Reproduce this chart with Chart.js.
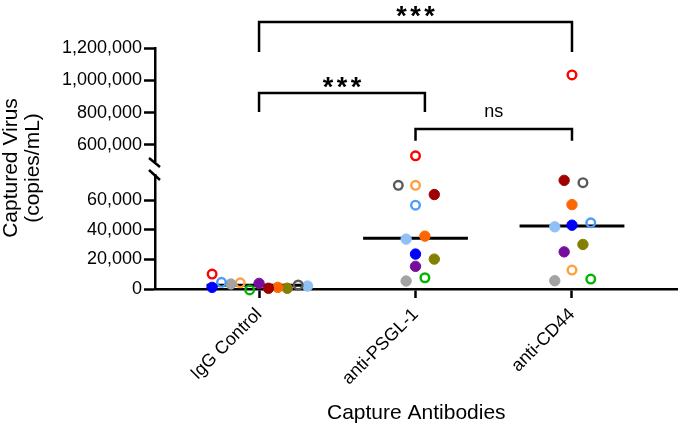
<!DOCTYPE html>
<html>
<head>
<meta charset="utf-8">
<title>Captured virus by capture antibody</title>
<script src="https://cdn.jsdelivr.net/npm/chart.js@4.4.1/dist/chart.umd.min.js"></script>
<style>
  html, body { margin: 0; padding: 0; background: #fff; }
  #wrap { width: 685px; height: 427px; }
</style>
</head>
<body>
<div id="wrap"><canvas id="myChart"></canvas></div>
<script>
// categories on the x axis
const groups = ['IgG Control', 'anti-PSGL-1', 'anti-CD44'];

// one value per donor, same donor order in every array (copies/mL)
const iggValues  = [10100, 1100, 4500, 3400, 4200, -600, 3800, 500, 1100, 500, 2700, 2000];
const psglValues = [532000, 23600, 56600, 5400, 70000, 7600, 15300, 63800, 35700, 20200, 70000, 33700];
const cd44Values = [1033000, 43100, 44700, 5600, 12800, 6700, 25100, 73400, 57000, 30100, 71800, 42000];

// horizontal scatter of each dot, in category units
const iggJitter  = [-0.30, -0.30, -0.24, -0.18, -0.12, -0.06, 0, 0.06, 0.12, 0.18, 0.25, 0.31];
const psglJitter = [0, 0, 0, -0.06, 0, 0.06, 0, 0.12, 0.06, 0.12, -0.11, -0.06];
const cd44Jitter = [0, 0, 0.12, -0.11, 0, 0.12, -0.05, -0.05, 0, 0.07, 0.07, -0.11];

const medians = [2500, 34300, 42600];

const lowTicks  = [0, 20000, 40000, 60000];
const highTicks = [600000, 800000, 1000000, 1200000];

const comparisons = [
  { from: 0, to: 2, label: '***' },
  { from: 0, to: 1, label: '***' },
  { from: 1, to: 2, label: 'ns' },
];

const allValues = [iggValues, psglValues, cd44Values];
const allJitter = [iggJitter, psglJitter, cd44Jitter];

// donor colours, hollow = open circle
const donorStyles = [
  { color: '#ff0000', hollow: true },
  { color: '#0000ff', hollow: false },
  { color: '#4d9cf5', hollow: true },
  { color: '#a3a3a3', hollow: false },
  { color: '#ffa040', hollow: true },
  { color: '#00b400', hollow: true },
  { color: '#760e9c', hollow: false },
  { color: '#a00000', hollow: false },
  { color: '#ff6600', hollow: false },
  { color: '#837f00', hollow: false },
  { color: '#5a5a5a', hollow: true },
  { color: '#90c0f5', hollow: false },
];

const BREAK = 300000; // values above go on the upper segment
const FONT = '"Liberation Sans", Arial, Helvetica, sans-serif';

const datasets = [];
donorStyles.forEach((st, d) => {
  ['yLow', 'yHigh'].forEach(axis => {
    const pts = groups.map((g, i) => ({ x: i + allJitter[i][d], y: allValues[i][d] }))
      .filter(p => (axis === 'yHigh') === (p.y > BREAK));
    if (!pts.length) return;
    datasets.push({
      type: 'scatter',
      yAxisID: axis,
      data: pts,
      pointRadius: st.hollow ? 4.3 : 5.2,
      pointBorderWidth: st.hollow ? 2.4 : 1,
      borderColor: st.color,
      backgroundColor: st.hollow ? 'rgba(255,255,255,0)' : st.color,
      pointHoverRadius: 5,
      clip: false,
      order: 0,
    });
  });
});

medians.forEach((m, i) => {
  datasets.push({
    type: 'line',
    yAxisID: 'yLow',
    data: [{ x: i - 0.335, y: m }, { x: i + 0.335, y: m }],
    borderColor: '#000',
    borderWidth: 3,
    pointRadius: 0,
    clip: false,
    order: 5,
  });
});

const tickFont = { family: FONT, size: 18 };
const titleFont = { family: FONT, size: 21 };

const yAxisBase = {
  type: 'linear',
  position: 'left',
  stack: 'y',
  grid: { drawOnChartArea: false, drawTicks: true, tickLength: 11, tickWidth: 2.5, tickColor: '#000' },
  border: { display: true, color: '#000', width: 2.5 },
  ticks: { font: tickFont, color: '#000', padding: 2, callback: v => v.toLocaleString('en-US') },
  afterFit: s => { s.width = 155; },
};

// brackets and the axis break mark
const annotations = {
  id: 'annotations',
  afterDraw(chart) {
    const { ctx, chartArea } = chart;
    const { x, yLow, yHigh } = chart.scales;
    ctx.save();
    ctx.strokeStyle = '#000';
    ctx.fillStyle = '#000';
    ctx.lineWidth = 2.5;
    ctx.lineCap = 'butt';

    // break "//"
    const l = chartArea.left;
    const t = yHigh.bottom, b = yLow.top;
    ctx.beginPath();
    ctx.moveTo(l - 6, t - 3); ctx.lineTo(l + 5, t + 6);
    ctx.moveTo(l - 6, b - 5); ctx.lineTo(l + 5, b + 5);
    ctx.stroke();

    // bracket levels on the upper segment: line height, leg end, end nudges
    const levels = [
      { line: 1361000, leg: 1175000, nudge: [0, 0] },
      { line: 922000, leg: 804000, nudge: [0, 0.06] },
      { line: 699000, leg: 625000, nudge: [0, 0] },
    ];
    comparisons.forEach((c, k) => {
      const lv = levels[k];
      const x1 = x.getPixelForValue(c.from + lv.nudge[0]);
      const x2 = x.getPixelForValue(c.to + lv.nudge[1]);
      const yl = yHigh.getPixelForValue(lv.line);
      const yg = yHigh.getPixelForValue(lv.leg);
      ctx.beginPath();
      ctx.moveTo(x1, yg); ctx.lineTo(x1, yl); ctx.lineTo(x2, yl); ctx.lineTo(x2, yg);
      ctx.stroke();
      const cx = (x1 + x2) / 2;
      ctx.textAlign = 'center';
      ctx.textBaseline = 'alphabetic';
      if (c.label === 'ns') {
        ctx.font = '18px ' + FONT;
        ctx.fillText(c.label, cx, yl - 12);
      } else {
        ctx.font = 'bold 27px ' + FONT;
        [-14, 0, 14].forEach(dx => ctx.fillText('*', cx + dx, yl + 3));
      }
    });
    ctx.restore();
  }
};

const config = {
  type: 'scatter',
  data: { datasets },
  options: {
    responsive: true,
    maintainAspectRatio: false,
    animation: false,
    layout: { padding: { top: 48, right: 2, bottom: 0, left: 0 } },
    plugins: { legend: { display: false }, tooltip: { enabled: false } },
    scales: {
      x: {
        type: 'linear',
        min: -0.665,
        max: 2.675,
        afterBuildTicks: s => { s.ticks = groups.map((g, i) => ({ value: i })); },
        ticks: {
          callback: v => groups[v],
          autoSkip: false,
          minRotation: 45,
          maxRotation: 45,
          font: tickFont,
          color: '#000',
          padding: 6,
        },
        grid: { drawOnChartArea: false, drawTicks: true, tickLength: 9, tickWidth: 2.5, tickColor: '#000' },
        border: { display: true, color: '#000', width: 2.5 },
        title: { display: true, text: 'Capture Antibodies', font: titleFont, color: '#000', padding: { top: 0, bottom: 1 } },
        afterFit: s => { s.height = 138; },
      },
      yLow: Object.assign({}, yAxisBase, {
        min: 0,
        max: 77000,
        stackWeight: 114,
        afterBuildTicks: s => { s.ticks = lowTicks.map(v => ({ value: v })); },
      }),
      yGap: {
        type: 'linear',
        position: 'left',
        stack: 'y',
        stackWeight: 14,
        min: 0,
        max: 1,
        ticks: { display: false },
        grid: { display: false },
        border: { display: false },
        title: {
          display: true,
          text: ['Captured Virus', '(copies/mL)'],
          font: { family: FONT, size: 21, lineHeight: 1.05 },
          color: '#000',
          padding: 0,
        },
        afterFit: s => { s.width = 155; },
      },
      yHigh: Object.assign({}, yAxisBase, {
        min: 500000,
        max: 1200000,
        stackWeight: 113,
        afterBuildTicks: s => { s.ticks = highTicks.map(v => ({ value: v })); },
      }),
    },
  },
  plugins: [annotations],
};

const ctx = document.getElementById('myChart');
const myChart = new Chart(ctx, config);
</script>
</body>
</html>
